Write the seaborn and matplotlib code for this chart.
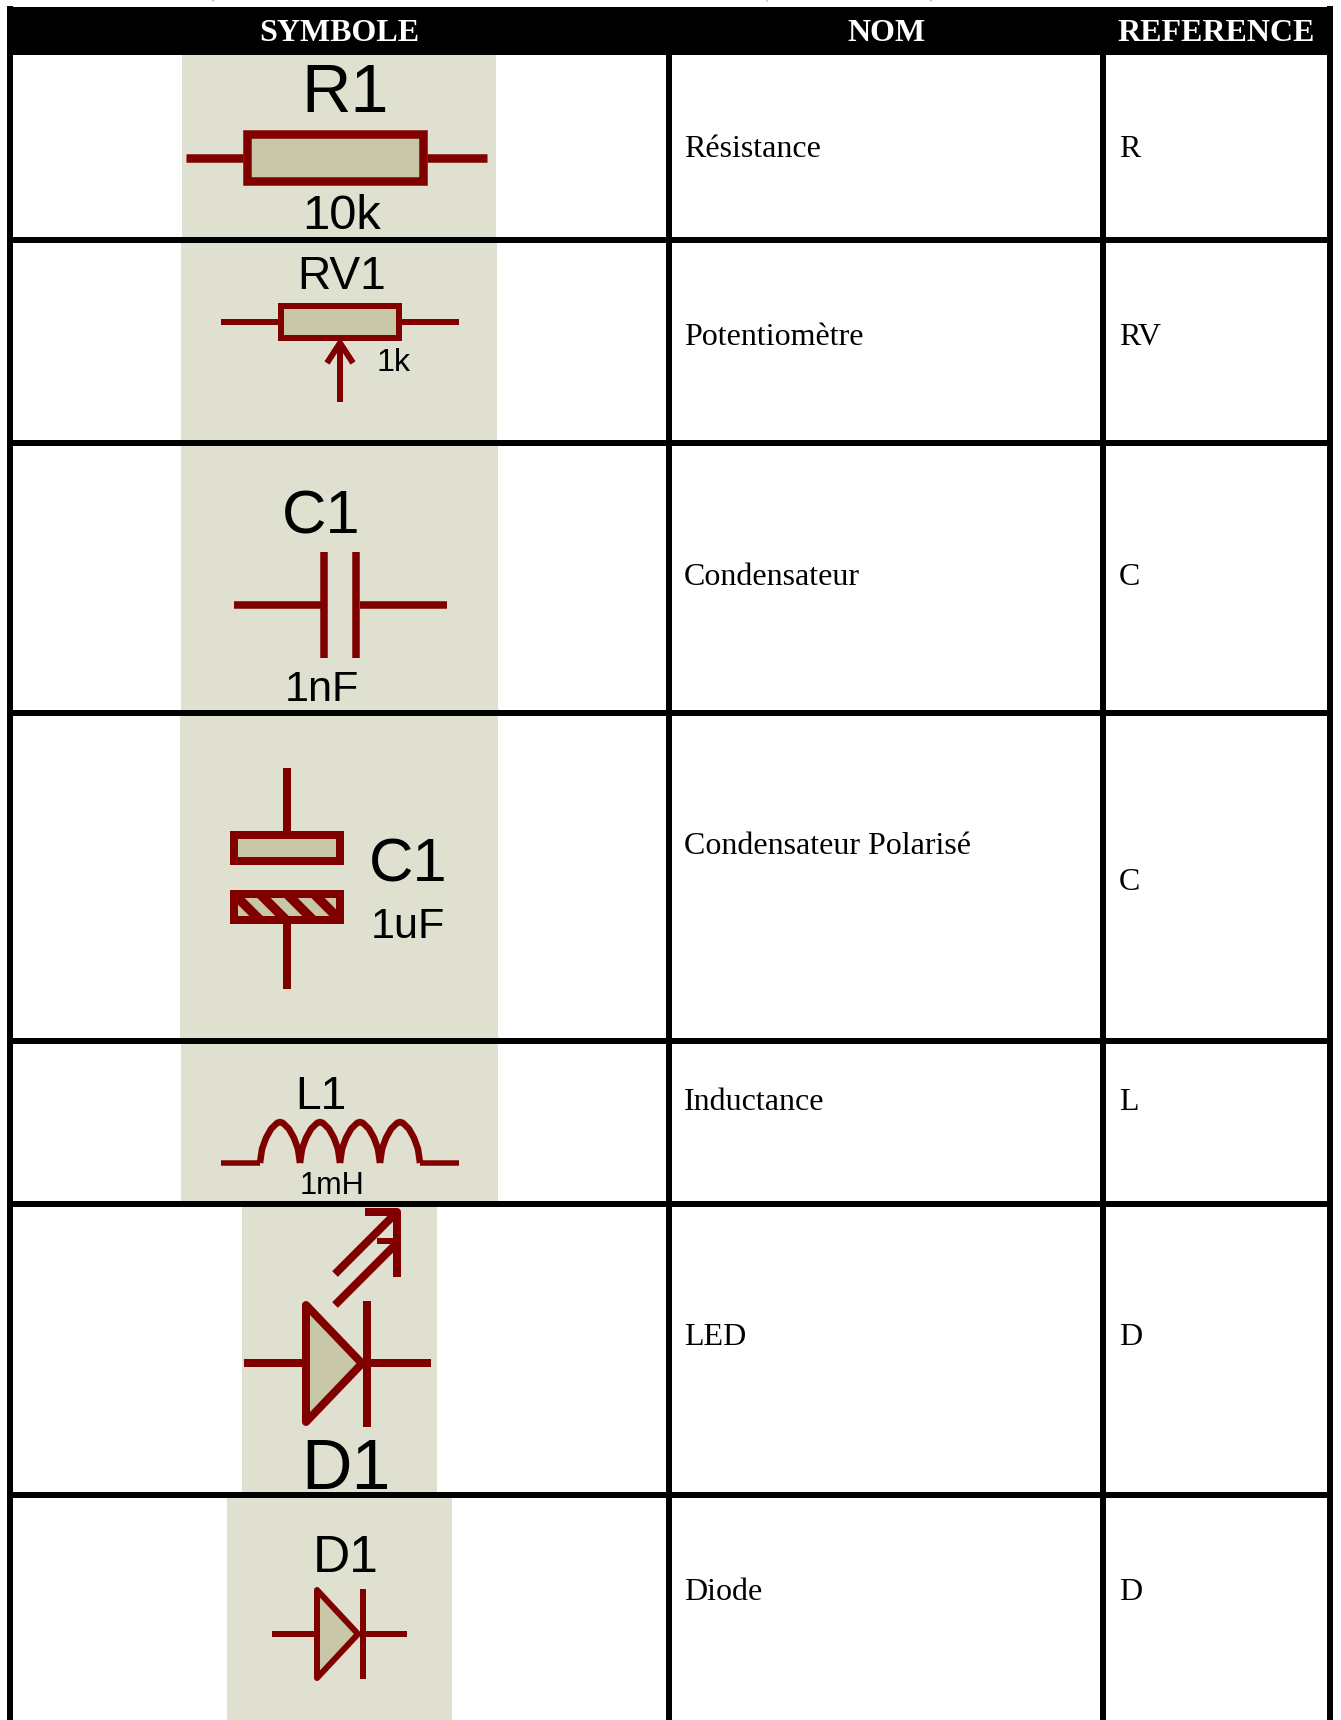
"""
Table of schematic symbols (symbole / nom / reference)
Everything is laid out in image pixels, y going down
"""

import matplotlib
matplotlib.use("Agg")
import matplotlib.pyplot as plt
from matplotlib.patches import Rectangle, Polygon
import seaborn as sns

sns.set_theme(style="white")

HEADERS = ["SYMBOLE", "NOM", "REFERENCE"]
NAMES = ["Résistance", "Potentiomètre", "Condensateur", "Condensateur Polarisé",
         "Inductance", "LED", "Diode"]
REFS = ["R", "RV", "C", "C", "L", "D", "D"]
NAME_BASELINES = [157, 345, 585, 854, 1110, 1345, 1600]
REF_BASELINES = [157, 345, 585, 890, 1110, 1345, 1600]

RULE_Y = [240, 443, 713, 1041, 1204, 1495]
RULE_X = [10, 669, 1103, 1330]

# grey picture behind each symbol: left, top, right, bottom
PANEL_X0 = [182, 181, 181, 180, 181, 242, 227]
PANEL_X1 = [496, 497, 498, 498, 498, 437, 452]
PANEL_Y0 = [55, 243, 446, 716, 1044, 1207, 1498]
PANEL_Y1 = [237, 440, 710, 1038, 1201, 1492, 1720]

# component labels: text, centre x, baseline, cap height in px
LABELS = ["R1", "10k", "RV1", "1k", "C1", "1nF", "C1", "1uF", "L1", "1mH", "D1", "D1"]
LABEL_X = [345, 342, 342, 394, 321, 322, 408, 408, 321, 332, 346, 346]
LABEL_Y = [112, 229, 289, 371, 533, 701, 881, 938, 1109, 1194, 1489, 1572]
LABEL_CAP = [49, 35, 33, 23, 44, 31, 44, 31, 33, 22, 50, 37]

# one coil turn, relative to its left foot
COIL_DX = [0, 2, 6, 11, 17, 20, 23, 29, 34, 38, 40]
COIL_DY = [0, -14, -25, -34, -40, -41, -40, -34, -25, -14, 0]
COIL_STARTS = [260, 300, 340, 380]

PANEL = "#dfe0d0"
FILL = "#c8c8a8"
DARK = "#800000"
PX = 0.72  # one pixel in points at dpi 100

fig = plt.figure(figsize=(13.41, 17.20), dpi=100)
ax = fig.add_axes([0, 0, 1, 1])
ax.set_xlim(0, 1341)
ax.set_ylim(1720, 0)
ax.axis("off")


def stroke(xs, ys, width=5, color=DARK, zorder=3, cap="butt"):
    sns.lineplot(x=xs, y=ys, sort=False, estimator=None, errorbar=None, color=color,
                 linewidth=width * PX, solid_capstyle=cap, solid_joinstyle="round",
                 zorder=zorder, legend=False, ax=ax)
    return ax.lines[-1]


def box(x0, y0, x1, y1, width, face=FILL):
    rect = Rectangle((x0, y0), x1 - x0, y1 - y0, facecolor=face, edgecolor=DARK,
                     linewidth=width * PX, joinstyle="miter", zorder=4)
    ax.add_patch(rect)
    return rect


def triangle(x, top, bottom, tip, width):
    ax.add_patch(Polygon([(x, top), (x, bottom), (tip, (top + bottom) / 2)], closed=True,
                         facecolor=FILL, edgecolor=DARK, linewidth=width * PX,
                         joinstyle="round", zorder=4))


def draw_table():
    ax.add_patch(Rectangle((7, 7), 1326, 48, facecolor="black", edgecolor="none", zorder=6))
    for y in RULE_Y:
        stroke([7, 1333], [y, y], 6, "black", 6)
    for x, top in zip(RULE_X, [6, 50, 50, 6]):
        stroke([x, x], [top, 1720], 6, "black", 6)

    for x, label in zip([339, 886, 1216], HEADERS):
        ax.text(x, 41, label, color="white", fontsize=32 * PX, fontweight="bold",
                family="Liberation Serif", ha="center", va="baseline", zorder=7)
    for name, y in zip(NAMES, NAME_BASELINES):
        ax.text(684, y, name, color="black", fontsize=32 * PX,
                family="Liberation Serif", va="baseline", zorder=7)
    for ref, y in zip(REFS, REF_BASELINES):
        ax.text(1119, y, ref, color="black", fontsize=32 * PX,
                family="Liberation Serif", va="baseline", zorder=7)

    # clipped tail of a red line of text above the table
    for x in [212, 766, 930]:
        stroke([x, x + 2], [0, 1], 2, "#ffb0b0", 2)


def draw_panels():
    for x0, y0, x1, y1 in zip(PANEL_X0, PANEL_Y0, PANEL_X1, PANEL_Y1):
        ax.add_patch(Rectangle((x0, y0), x1 - x0, y1 - y0, facecolor=PANEL,
                               edgecolor="none", zorder=1))
    for text, x, y, cap in zip(LABELS, LABEL_X, LABEL_Y, LABEL_CAP):
        ax.text(x, y, text, color="black", fontsize=cap / 0.716 * PX,
                family="Liberation Sans", ha="center", va="baseline", zorder=5)


def draw_symbols():
    # resistor
    stroke([186, 243], [158, 158], 8.5)
    stroke([427, 487], [158, 158], 8.5)
    box(247, 134, 423, 181, 8.5)

    # potentiometer
    stroke([221, 278], [322, 322], 6)
    stroke([402, 459], [322, 322], 6)
    box(281, 306, 399, 338, 6)
    stroke([340, 340], [343, 402], 6)
    stroke([327, 340, 353], [363, 343, 363], 6)

    # capacitor
    stroke([234, 321], [605, 605], 7.5)
    stroke([360, 447], [605, 605], 7.5)
    stroke([324, 324], [552, 658], 7.5)
    stroke([356, 356], [552, 658], 7.5)

    # polarised capacitor
    stroke([287, 287], [768, 831], 8)
    stroke([287, 287], [924, 989], 8)
    box(234, 835, 340, 861, 8)
    plate = box(234, 894, 340, 920, 8)
    for top, bottom in zip([231, 257, 284, 311], [263, 289, 316, 343]):
        stroke([top, bottom], [891, 923], 9.5, zorder=5).set_clip_path(plate)
    box(234, 894, 340, 920, 8, face="none").set_zorder(6)

    # inductor
    stroke([221, 260], [1163, 1163], 5.5)
    stroke([420, 459], [1163, 1163], 5.5)
    for start in COIL_STARTS:
        stroke([start + dx for dx in COIL_DX], [1163 + dy for dy in COIL_DY], 6.5)

    # led
    stroke([244, 303], [1363, 1363], 8)
    stroke([370, 431], [1363, 1363], 8)
    triangle(306, 1305, 1422, 362, 8)
    stroke([367, 367], [1301, 1427], 8, zorder=5)
    stroke([335, 397], [1274, 1212], 8)
    stroke([335, 397], [1305, 1243], 8)
    stroke([365, 397, 397], [1212, 1212, 1277], 8)
    stroke([377, 397], [1241, 1241], 6)

    # diode
    stroke([272, 315], [1634, 1634], 6)
    stroke([363, 407], [1634, 1634], 6)
    triangle(317, 1590, 1678, 358, 6)
    stroke([363, 363], [1589, 1679], 6, zorder=5)


draw_panels()
draw_symbols()
draw_table()

fig.savefig("out.png", dpi=100, facecolor="white")
